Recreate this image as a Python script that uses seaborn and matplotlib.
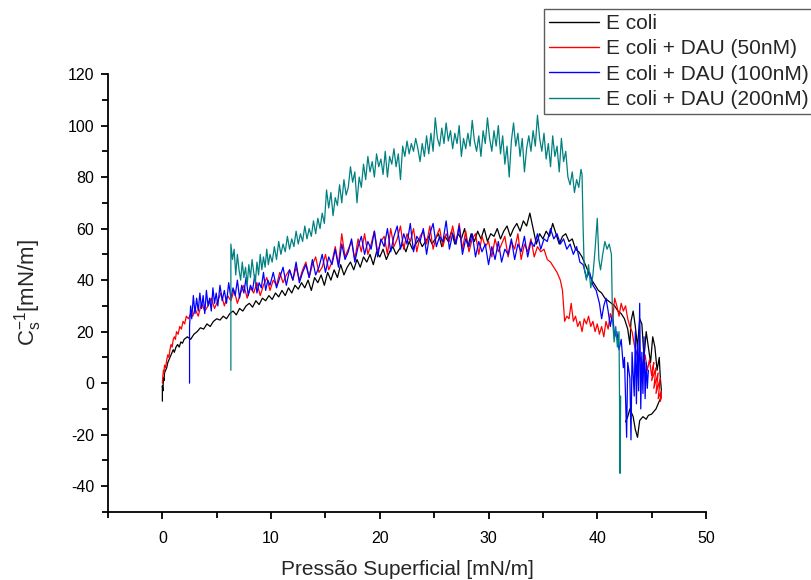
import matplotlib
matplotlib.use("Agg")
import matplotlib.pyplot as plt
import seaborn as sns
import pandas as pd

# ---------------- data ----------------
labels = ["E coli", "E coli + DAU (50nM)", "E coli + DAU (100nM)", "E coli + DAU (200nM)"]
colors = ["#000000", "#ff0000", "#0000ff", "#008080"]

black_x = [0.0, 0.0, 0.05, 0.1, 0.15, 0.2, 0.3, 0.4, 0.5, 0.6, 0.7, 0.8, 0.9, 1.0, 1.1, 1.25, 1.4, 1.55, 1.7, 1.85, 2.0,
           2.3, 2.6, 2.9, 3.2, 3.5, 3.8, 4.1, 4.4, 4.7, 5.0, 5.3, 5.6, 5.9, 6.2, 6.5, 6.8, 7.1, 7.4, 7.7, 8.0, 8.3, 8.6,
           8.9, 9.2, 9.5, 9.8, 10.1, 10.4, 10.7, 11.0, 11.3, 11.6, 11.9, 12.2, 12.5,
           12.8, 13.1, 13.4, 13.7, 14.0, 14.3, 14.6, 14.9, 15.2, 15.5, 15.8, 16.1, 16.4, 16.7, 17.0, 17.3, 17.6, 17.9,
           18.2, 18.5, 18.8, 19.1, 19.4, 19.7, 20.0, 20.3, 20.6, 20.9, 21.2, 21.5, 21.8, 22.1, 22.4, 22.7, 23.0, 23.3,
           23.6, 23.9, 24.2, 24.5, 24.8, 25.1, 25.4, 25.7, 26.0, 26.3, 26.6, 26.9, 27.2, 27.5, 27.8, 28.1, 28.4, 28.7,
           29.0, 29.3, 29.6, 29.9, 30.2, 30.5, 30.8, 31.1, 31.4, 31.7, 32.0, 32.3, 32.6, 32.9, 33.2, 33.5, 33.8, 34.1,
           34.4, 34.7, 35.0, 35.3, 35.6, 35.9, 36.2, 36.5, 36.8, 37.1, 37.4, 37.7, 38.0, 38.3, 38.6, 38.9, 39.2, 39.5,
           39.8, 40.1, 40.4, 40.7, 41.0, 41.3, 41.6, 41.9, 42.2, 42.5, 42.8, 43.0, 43.1, 43.3, 43.5, 43.7, 43.9, 44.1,
           44.3, 44.5, 44.7, 44.9, 45.1, 45.3, 45.5, 45.7, 45.8, 45.9, 45.8, 45.6, 45.4, 45.2, 45.0, 44.7, 44.5, 44.2,
           43.9, 43.7, 43.5, 43.3, 43.0, 42.8, 42.6]
black_y = [-7, -1, -3, 2, 1, 4, 5, 6, 8, 9, 10, 11, 12, 13, 12, 14, 15, 14, 16, 15.5, 17,
           18, 17, 19, 20, 21.5, 21, 23, 22, 24, 25, 24.5, 26, 25, 27, 28, 26.5, 29, 28, 30, 31, 29.5, 32,
           30.5, 33, 32, 34, 32.5, 35, 33.5, 36, 34, 37, 35, 38, 36.5,
           39, 37, 40, 36, 41, 39, 42, 38, 43, 40, 44, 41, 46, 42, 45, 47, 44, 48,
           45, 49, 47, 50, 46, 51, 49, 52, 48, 51, 53, 50, 52, 54, 51, 55, 52, 54,
           56, 53, 55, 57, 54, 56, 58, 53, 57, 55, 59, 54, 58, 56, 60, 53, 58, 55,
           59, 56, 60, 55, 58, 57, 60, 56, 59, 61, 57, 60, 62, 59, 63, 61, 66, 60,
           54, 58, 56, 59, 57, 62, 58, 54, 57, 58, 55, 56, 52, 51, 49, 46, 43, 40,
           38, 36, 35, 33, 32, 31, 30, 28, 27, 25, 21, 15, 24, 28, 22, 14, 25, 23,
           10, 20, 14, 8, 18, 14, 5, 10, 2, -3, -6, -8, -10, -11, -12, -12.5, -14, -13,
           -14.5, -21, -18, -13, -10, -13, -15]

red_x = [0.0, 0.05, 0.1, 0.15, 0.2, 0.3, 0.4, 0.5, 0.6, 0.7, 0.8, 0.9, 1.0, 1.1, 1.2, 1.3, 1.45, 1.6, 1.75, 1.9, 2.05,
         2.2, 2.4, 2.6, 2.8, 3.0, 3.3, 3.6, 3.9, 4.2, 4.5, 4.8, 5.1, 5.4, 5.7, 6.0, 6.3, 6.6, 6.9, 7.2, 7.5, 7.8,
         8.1, 8.4, 8.7, 9.0, 9.3, 9.6, 9.9, 10.2, 10.5, 10.8, 11.1, 11.4, 11.7, 12.0, 12.3, 12.6, 12.9, 13.2, 13.5,
         13.8, 14.1, 14.4, 14.7, 15.0, 15.3, 15.6, 15.9, 16.2, 16.5, 16.8, 17.1, 17.4, 17.7, 18.0, 18.3, 18.6, 18.9,
         19.2, 19.5, 19.8, 20.1, 20.4, 20.7, 21.0, 21.3, 21.6, 21.9, 22.2, 22.5, 22.8, 23.1, 23.4, 23.7, 24.0, 24.3,
         24.6, 24.9, 25.2, 25.5, 25.8, 26.1, 26.4, 26.7, 27.0, 27.3, 27.6, 27.9, 28.2, 28.5, 28.8, 29.1, 29.4, 29.7,
         30.0, 30.3, 30.6, 30.9, 31.2, 31.5, 31.8, 32.1, 32.4, 32.7, 33.0, 33.3, 33.6, 33.9, 34.2, 34.5, 34.8, 35.1,
         35.4, 35.7, 36.0, 36.3, 36.6, 36.8, 37.0, 37.2, 37.4, 37.6, 37.8, 38.0, 38.2, 38.4, 38.6, 38.8, 39.0, 39.2,
         39.4, 39.6, 39.8, 40.0, 40.2, 40.4, 40.6, 40.8, 41.0, 41.2, 41.4, 41.6, 41.8, 42.0, 42.2, 42.4, 42.6, 42.8,
         43.0, 43.2, 43.4, 43.6, 43.8, 44.0, 44.2, 44.4, 44.6, 44.8, 45.0, 45.2, 45.0, 45.4, 45.2, 45.6, 45.4, 45.8,
         45.6, 45.9, 45.8, 45.9]
red_y = [0, 3, 5, 4, 7, 6, 9, 11, 10, 13, 15, 14, 17, 18, 17, 20, 19, 22, 21, 24, 23,
         26, 25, 27, 26,
         29, 26, 31, 28, 30, 33, 29, 32, 35, 30, 34, 32, 36, 31, 35, 38, 33, 37, 35, 39, 34, 38, 41, 36, 40, 38,
         43, 39, 42, 44, 40,
         45, 40, 44, 47, 41, 46, 49, 43, 45, 50,
         44, 47, 53, 46, 58, 49, 52, 55, 48, 56,
         51, 58, 50, 54, 59, 51, 55, 57, 50, 60,
         53, 56, 61, 52, 58, 55, 60, 51, 57, 59,
         54, 61, 52, 57, 60, 53, 58, 55, 61, 54,
         62, 52, 59, 51, 56, 58, 50, 57, 53, 55,
         49, 56, 51, 54, 57, 49, 55, 52, 58, 48,
         54, 51, 56, 49, 53, 51, 52,
         48, 47, 45, 43, 40, 36, 24, 26, 25, 31, 24, 26, 22, 24, 20, 25, 23, 26,
         22, 24, 20, 23, 19, 22, 18, 24, 21, 27, 24, 33, 30, 26, 31, 28, 30, 25,
         22, 20, 15, 12, 8, 10, 6, 11, 5, 9, 3, 8, 1, 6, -2, 4, -4, 2,
         -6, -3, -7, -5]

blue_x = [2.5, 2.5, 2.6, 2.7, 2.85, 3.0, 3.15, 3.3, 3.45, 3.6, 3.75, 3.9, 4.05, 4.2, 4.35, 4.5, 4.65, 4.8, 4.95, 5.1,
          5.3, 5.5, 5.7, 5.9, 6.1, 6.3, 6.5, 6.7, 6.9, 7.1, 7.3, 7.5, 7.7, 7.9, 8.1, 8.3, 8.5, 8.7, 8.9, 9.1, 9.3,
          9.5, 9.7, 9.9, 10.2, 10.5, 10.8, 11.1, 11.4, 11.7, 12.0, 12.3, 12.6, 12.9, 13.2, 13.5, 13.8, 14.1, 14.4,
          14.7, 15.0, 15.3, 15.6, 15.9, 16.2, 16.5, 16.8, 17.1, 17.4, 17.7, 18.0, 18.3, 18.6, 18.9, 19.2, 19.5,
          19.8, 20.1, 20.4, 20.7, 21.0, 21.3, 21.6, 21.9, 22.2, 22.5, 22.8, 23.1, 23.4, 23.7, 24.0, 24.3, 24.6,
          24.9, 25.2, 25.5, 25.8, 26.1, 26.4, 26.7, 27.0, 27.3, 27.6, 27.9, 28.2, 28.5, 28.8, 29.1, 29.4, 29.7,
          30.0, 30.3, 30.6, 30.9, 31.2, 31.5, 31.8, 32.1, 32.4, 32.7, 33.0, 33.3, 33.6, 33.9, 34.2, 34.5, 34.8,
          35.1, 35.4, 35.7, 36.0, 36.3, 36.6, 36.9, 37.2, 37.5, 37.8, 38.1, 38.4, 38.7, 39.0, 39.3, 39.6, 39.9,
          40.2, 40.4, 40.6, 40.8, 41.0, 41.2, 41.4, 41.6, 41.8, 42.0, 42.2, 42.4, 42.5, 42.7, 42.8, 43.0, 43.1,
          43.2, 43.4, 43.5, 43.6, 43.7, 43.8, 43.9, 44.0, 44.1, 44.2, 44.3, 44.4, 44.5, 44.6, 44.7]
blue_y = [0, 22, 30, 25, 34, 27, 33, 28, 35, 29, 34, 27, 36, 30, 33, 28, 37, 31, 35, 30,
          38, 32, 36, 31, 39, 33, 37, 34, 40, 33, 38, 35, 41, 34, 38, 36, 42, 35, 39, 37, 43, 36, 40, 38,
          43, 37, 41, 45, 38, 44, 40, 47, 39, 43,
          46, 41, 48, 42, 45, 50, 43, 49, 46, 52,
          45, 54, 48, 51, 56, 47, 53, 57, 50, 55,
          52, 59, 49, 56, 53, 60, 51, 57, 61, 52,
          58, 54, 62, 51, 57, 55, 60, 50, 58, 62,
          53, 57, 55, 63, 52, 58, 54, 61, 50, 56,
          53, 58, 49, 55, 51, 54, 46, 53, 48, 55,
          47, 52, 50, 56, 48, 54, 51, 57, 49, 55,
          53, 58, 52, 56, 55,
          60, 56, 58, 54, 56, 52, 54, 50, 53, 47, 46, 41, 43, 38, 36,
          31, 25, 30, 33, 28, 22, 27, 18, 20, 13, 17, 6, 10, -21, 8, 2, -22,
          12, -5, 20, -8, 15, -3, 31, -10, 12, -4, 18, -6, 8, -2, 5]

teal_x = [6.3, 6.3, 6.45, 6.6, 6.75, 6.9, 7.05, 7.2, 7.35, 7.5, 7.65, 7.8, 7.95, 8.1, 8.25, 8.4, 8.55, 8.7, 8.85,
          9.0, 9.15, 9.3, 9.45, 9.6, 9.75, 9.9, 10.1, 10.3, 10.5, 10.7, 10.9, 11.1, 11.3, 11.5, 11.7, 11.9, 12.1,
          12.3, 12.5, 12.7, 12.9, 13.1, 13.3, 13.5, 13.7, 13.9, 14.1, 14.3, 14.5, 14.7, 14.9, 15.1, 15.3, 15.5,
          15.7, 15.9, 16.1, 16.3, 16.5, 16.7, 16.9, 17.1, 17.3, 17.5, 17.7, 17.9, 18.1, 18.3, 18.5, 18.7, 18.9,
          19.1, 19.3, 19.5, 19.7, 19.9, 20.1, 20.3, 20.5, 20.7, 20.9, 21.1, 21.3, 21.5, 21.7, 21.9, 22.1, 22.3,
          22.5, 22.7, 22.9, 23.1, 23.3, 23.5, 23.7, 23.9, 24.1, 24.3, 24.5, 24.7, 24.9, 25.1, 25.3, 25.5, 25.7,
          25.9, 26.1, 26.3, 26.5, 26.7, 26.9, 27.1, 27.3, 27.5, 27.7, 27.9, 28.1, 28.3, 28.5, 28.7, 28.9, 29.1,
          29.3, 29.5, 29.7, 29.9, 30.1, 30.3, 30.5, 30.7, 30.9, 31.1, 31.3, 31.5, 31.7, 31.9, 32.1, 32.3, 32.5,
          32.7, 32.9, 33.1, 33.3, 33.5, 33.7, 33.9, 34.1, 34.3, 34.5, 34.7, 34.9, 35.1, 35.3, 35.5, 35.7, 35.9,
          36.1, 36.3, 36.5, 36.7, 36.9, 37.1, 37.3, 37.5, 37.7, 37.9, 38.1, 38.3, 38.5, 38.6, 38.7, 38.8, 39.0,
          39.2, 39.4, 39.6, 39.8, 40.0, 40.15, 40.3, 40.5, 40.7, 40.9, 41.1, 41.3, 41.4, 41.55, 41.7, 41.85, 42.0,
          42.1, 42.15]
teal_y = [5, 54, 48, 52, 42, 50, 44, 40, 47, 41, 45, 38, 46, 41, 48, 43, 39, 47, 42,
          50, 44, 49, 45, 52, 46, 50, 47, 53, 48, 55, 50, 54, 51, 57, 52, 56, 53,
          59, 54, 58, 55, 61, 56, 60, 57, 63, 58, 64, 60, 66, 62, 75, 68, 74,
          65, 72, 69, 77, 70, 79, 73, 76, 84, 78, 82, 70, 80, 76, 85, 79, 88,
          82, 86, 80, 89, 84, 87, 81, 90, 80, 88, 85, 91, 84, 89, 79, 92, 88,
          94, 89, 93, 90, 95, 91, 86, 93, 88, 96, 89, 97, 90, 103, 95, 92, 99,
          93, 101, 94, 98, 91, 97, 93, 100, 88, 95, 91, 97, 92, 102, 94, 90, 96,
          88, 98, 93, 103, 95, 90, 98, 92, 100, 89, 96, 85, 92, 80, 94, 101, 92,
          97, 88, 95, 82, 91, 96, 90, 98, 92, 104, 95, 90, 97, 87, 93, 84, 96,
          88, 92, 82, 95, 86, 90, 80, 77, 82, 74, 79, 76, 83, 81, 60, 45, 40,
          46, 37, 42, 52, 64, 48, 44, 50, 55, 52, 54, 50, 25, 16, 22, 14, 20,
          -35, -5]

series_x = [black_x, red_x, blue_x, teal_x]
series_y = [black_y, red_y, blue_y, teal_y]

x_ticks = [0, 10, 20, 30, 40, 50]
y_ticks = [-40, -20, 0, 20, 40, 60, 80, 100, 120]

# ---------------- styling ----------------
sns.set_style("ticks")
plt.rcParams["font.family"] = ["Liberation Sans", "DejaVu Sans"]
plt.rcParams["mathtext.fontset"] = "custom"
plt.rcParams["mathtext.rm"] = "Liberation Sans"
plt.rcParams["mathtext.it"] = "Liberation Sans"
plt.rcParams["axes.unicode_minus"] = False

fig = plt.figure(figsize=(8.12, 5.80), dpi=100)
ax = fig.add_axes([108 / 812, 68 / 580, 598 / 812, 438 / 580])

for xs, ys, lab, col in zip(series_x, series_y, labels, colors):
    df = pd.DataFrame({"x": xs, "y": ys})
    sns.lineplot(data=df, x="x", y="y", sort=False, estimator=None, color=col,
                 linewidth=0.9, label=lab, ax=ax)

ax.set_xlim(-5, 50)
ax.set_ylim(-50, 120)
ax.set_xticks(x_ticks)
ax.set_yticks(y_ticks)
ax.set_xticks([-5, 5, 15, 25, 35, 45], minor=True)
ax.set_yticks([-50, -30, -10, 10, 30, 50, 70, 90, 110], minor=True)

for s in ["top", "right"]:
    ax.spines[s].set_visible(False)
for s in ["left", "bottom"]:
    ax.spines[s].set_linewidth(1.3)
    ax.spines[s].set_color("black")

ax.tick_params(which="major", direction="out", length=5, width=1.3, labelsize=11.5,
               colors="black", pad=5)
ax.tick_params(which="minor", direction="out", length=4, width=1.3, colors="black")
ax.tick_params(axis="x", which="major", pad=9)

ax.set_xlabel("Pressão Superficial [mN/m]", fontsize=15, labelpad=10)
ax.set_ylabel(r"C$_\mathregular{s}^\mathregular{-1}$[mN/m]", fontsize=16, labelpad=17)

leg = ax.legend(loc="upper left", bbox_to_anchor=(544 / 812, 1 - 9 / 580),
                bbox_transform=fig.transFigure, fontsize=15, frameon=True,
                fancybox=False, edgecolor="#333333", handlelength=2.4, handletextpad=0.35,
                labelspacing=0.3, borderpad=0.25, borderaxespad=0)
leg.get_frame().set_linewidth(1.0)
for line in leg.get_lines():
    line.set_linewidth(1.0)

fig.savefig("out.png", dpi=100)
